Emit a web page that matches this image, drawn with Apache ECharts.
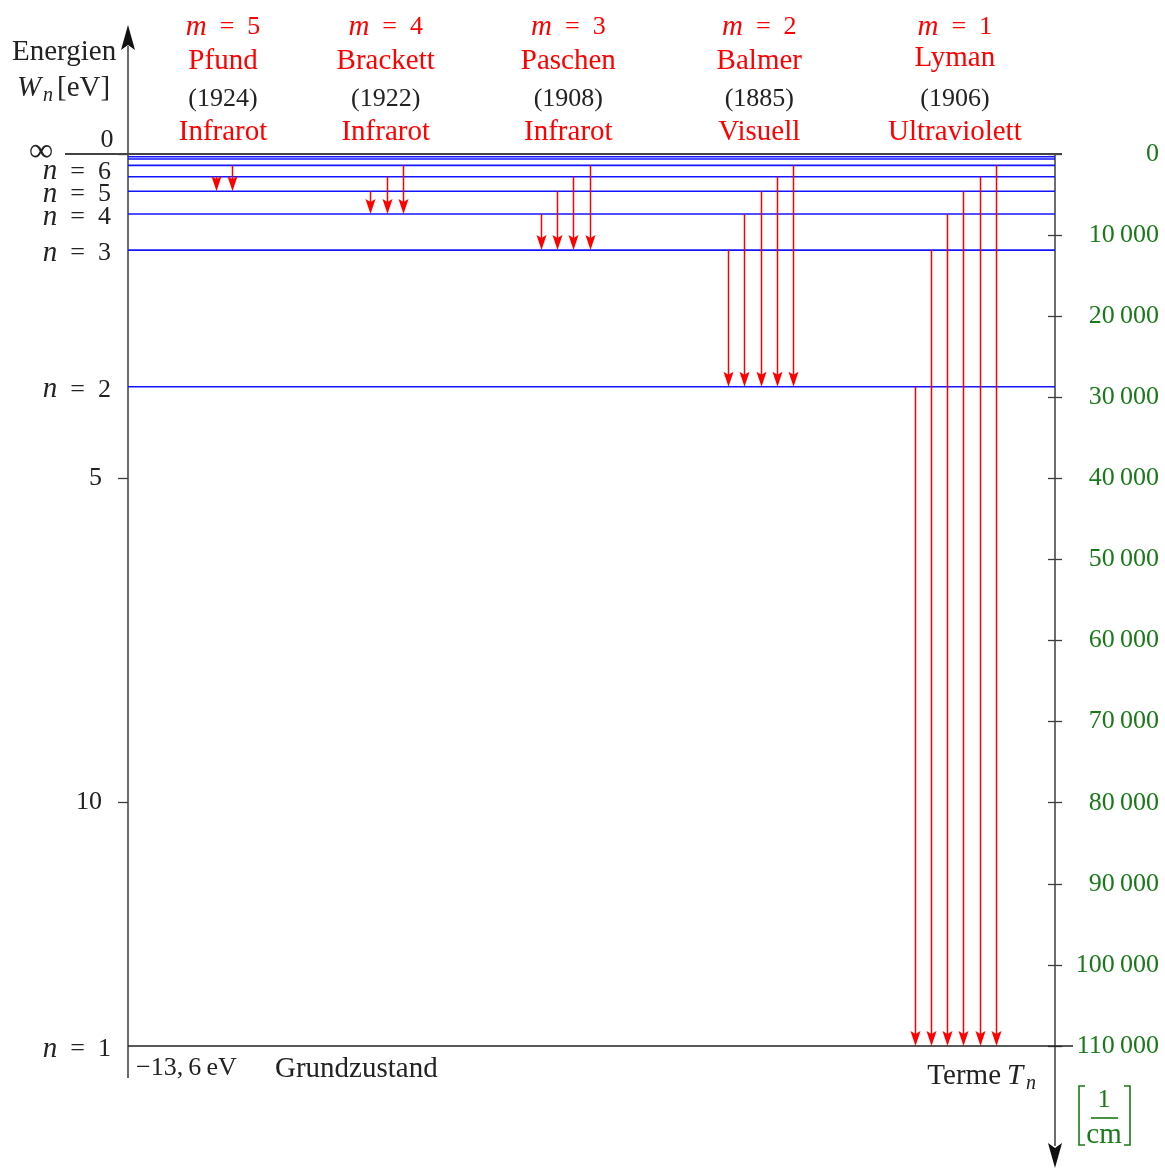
<!DOCTYPE html>
<html><head><meta charset="utf-8">
<script src="https://cdn.jsdelivr.net/npm/echarts@6/dist/echarts.min.js"></script>
<style>html,body{margin:0;padding:0;background:#fff}#c{width:1165px;height:1170px}</style>
</head><body><div id="c"></div>
<script>
// ---- data ----
// energy levels: principal quantum number n and term value T_n [1/cm]
const levelN    = [1, 2, 3, 4, 5, 6, 7, 8, 9];
const levelTerm = [110000, 28700, 11850, 7400, 4600, 2800, 1400, 620, 330];
const labeledLevels = [1, 2, 3, 4, 5, 6];
const ionizationTerm = 0;

// spectral series
const seriesM      = [5, 4, 3, 2, 1];
const seriesName   = ['Pfund', 'Brackett', 'Paschen', 'Balmer', 'Lyman'];
const seriesYear   = ['(1924)', '(1922)', '(1908)', '(1885)', '(1906)'];
const seriesRegion = ['Infrarot', 'Infrarot', 'Infrarot', 'Visuell', 'Ultraviolett'];
const seriesLabelX = [10.25, 27.8, 47.5, 68.1, 89.2];

// transitions: horizontal position (0–100) and upper level n, per series
const arrowX = [
  [9.49, 11.22],
  [26.1, 27.94, 29.67],
  [44.55, 46.28, 48.0, 49.84],
  [64.72, 66.45, 68.28, 70.0, 71.74],
  [84.9, 86.62, 88.35, 90.08, 91.91, 93.64]
];
const arrowFromN = [
  [6, 7],
  [5, 6, 7],
  [4, 5, 6, 7],
  [3, 4, 5, 6, 7],
  [2, 3, 4, 5, 6, 7]
];

// axes
const evMax = 13.765, evInterval = 5;
const evLabels = [5, 10];
const termMax = 110000, termInterval = 10000;

// ---- chart ----
const FF = "'Liberation Serif','Times New Roman',serif";
const RED = '#ff0000', BLUE = '#1414ff', GREEN = '#1a7a1a', INK = '#222222', AXIS = '#3c3c3c';
const FS = 26;   // digits
const FW = 29;   // words

const termOf = n => levelTerm[levelN.indexOf(n)];
const arrowData = [];
arrowX.forEach((xs, s) => xs.forEach((x, k) => {
  arrowData.push([x, termOf(arrowFromN[s][k]), termOf(seriesM[s])]);
}));

const chart = echarts.init(document.getElementById('c'), null, { renderer: 'canvas' });

function fmtThin(v) {
  return String(v).replace(/\B(?=(\d{3})+(?!\d))/g, '\u2009');
}

const option = {
  backgroundColor: '#fff',
  animation: false,
  grid: { left: 128, right: 110, top: 154, bottom: 124 },
  xAxis: { type: 'value', min: 0, max: 100, show: false },
  yAxis: [
    {
      type: 'value', position: 'left', inverse: true, min: 0, max: evMax, interval: evInterval,
      axisLine: { show: false }, splitLine: { show: false },
      axisTick: { show: true, inside: false, length: 10, lineStyle: { color: AXIS, width: 1.3 } },
      axisLabel: { margin: 26, color: INK, fontFamily: FF, fontSize: FS, showMaxLabel: false,
        formatter: v => (evLabels.includes(v) ? String(v) : '') }
    },
    {
      type: 'value', position: 'right', inverse: true, min: 0, max: termMax, interval: termInterval,
      offset: -7,
      axisLine: { show: false }, splitLine: { show: false },
      axisTick: { show: true, inside: false, length: 14, lineStyle: { color: AXIS, width: 1.3 } },
      axisLabel: { margin: 111, align: 'right', color: GREEN, fontFamily: FF, fontSize: FS,
        showMaxLabel: true, formatter: v => fmtThin(v) }
    }
  ],
  series: [
    { // axis lines with arrows and ionization limit
      type: 'custom', xAxisIndex: 0, yAxisIndex: 1, clip: false, z: 1,
      data: [[0, 0]],
      renderItem: (params, api) => {
        const tl = api.coord([0, ionizationTerm]);
        const br = api.coord([100, termMax]);
        const xl = tl[0], xr = br[0], yt = tl[1], yb = br[1];
        return { type: 'group', children: [
          { type: 'line', shape: { x1: xl, y1: yb + 32, x2: xl, y2: yt - 108 }, style: { stroke: AXIS, lineWidth: 1.5 } },
          { type: 'polygon', shape: { points: [[xl, yt - 129], [xl - 7, yt - 104], [xl, yt - 109], [xl + 7, yt - 104]] }, style: { fill: '#111' } },
          { type: 'line', shape: { x1: xr, y1: yt, x2: xr, y2: yb + 100 }, style: { stroke: AXIS, lineWidth: 1.5 } },
          { type: 'polygon', shape: { points: [[xr, yb + 122], [xr - 7, yb + 97], [xr, yb + 102], [xr + 7, yb + 97]] }, style: { fill: '#111' } },
          { type: 'line', shape: { x1: xl - 63, y1: yt, x2: xr + 7, y2: yt }, style: { stroke: '#444', lineWidth: 2.2 } }
        ] };
      }
    },
    { // energy levels
      type: 'custom', xAxisIndex: 0, yAxisIndex: 1, clip: false, z: 2,
      data: levelTerm.map(t => [0, t]),
      renderItem: (params, api) => {
        const n = levelN[params.dataIndex];
        const a = api.coord([0, api.value(1)]);
        const b = api.coord([100, api.value(1)]);
        const ch = [{ type: 'line', shape: { x1: a[0], y1: a[1], x2: b[0] + (n === 1 ? 18 : 0), y2: a[1] },
          style: { stroke: n === 1 ? INK : BLUE, lineWidth: n === 1 ? 1.4 : 1.6 } }];
        if (labeledLevels.includes(n)) {
          ch.push({ type: 'text', x: a[0] - 17, y: a[1] + 3 + (n === 6 ? -8 : 0),
            style: { text: '{i|n}\u2002=\u2002' + n, align: 'right', verticalAlign: 'middle',
              fill: INK, fontFamily: FF, fontSize: FS,
              rich: { i: { fontStyle: 'italic', fontFamily: FF, fontSize: FW, fill: INK } } } });
        }
        return { type: 'group', children: ch };
      }
    },
    { // transitions
      type: 'custom', xAxisIndex: 0, yAxisIndex: 1, clip: false, z: 3,
      data: arrowData,
      encode: { x: 0, y: [1, 2] },
      renderItem: (params, api) => {
        const p = api.coord([api.value(0), api.value(1)]);
        const q = api.coord([api.value(0), api.value(2)]);
        const x = Math.round(p[0]) + 0.5, y0 = p[1], y1 = q[1];
        return { type: 'group', children: [
          { type: 'line', shape: { x1: x, y1: y0, x2: x, y2: y1 - 10 }, style: { stroke: RED, lineWidth: 1.5 } },
          { type: 'polygon', shape: { points: [[x, y1], [x - 5, y1 - 15], [x, y1 - 12], [x + 5, y1 - 15]] }, style: { fill: RED } }
        ] };
      }
    },
    { // series headers
      type: 'custom', xAxisIndex: 0, yAxisIndex: 1, clip: false, z: 4,
      data: seriesLabelX.map(x => [x, 0]),
      renderItem: (params, api) => {
        const i = params.dataIndex;
        const x = api.coord([api.value(0), 0])[0];
        const base = { align: 'center', verticalAlign: 'middle', fontFamily: FF, fontSize: FW };
        return { type: 'group', children: [
          { type: 'text', x: x, y: 27, style: Object.assign({}, base, { text: '{i|m}\u2002=\u2002' + seriesM[i], fill: RED, fontSize: FS,
              rich: { i: { fontStyle: 'italic', fontFamily: FF, fontSize: FW, fill: RED } } }) },
          { type: 'text', x: x, y: seriesName[i] === 'Lyman' ? 58 : 61, style: Object.assign({}, base, { text: seriesName[i], fill: RED }) },
          { type: 'text', x: x, y: 99, style: Object.assign({}, base, { text: seriesYear[i], fill: INK, fontSize: FS }) },
          { type: 'text', x: x, y: 132, style: Object.assign({}, base, { text: seriesRegion[i], fill: RED }) }
        ] };
      }
    }
  ],
  graphic: [
    { type: 'text', x: 12, y: 52, style: { text: 'Energien', fill: INK, font: FW + 'px ' + FF, verticalAlign: 'middle' } },
    { type: 'text', x: 17, y: 88, style: { text: 'W', fill: INK, font: 'italic ' + FW + 'px ' + FF, verticalAlign: 'middle' } },
    { type: 'text', x: 43, y: 96, style: { text: 'n', fill: INK, font: 'italic 20px ' + FF, verticalAlign: 'middle' } },
    { type: 'text', x: 57, y: 88, style: { text: '[eV]', fill: INK, font: FW + 'px ' + FF, verticalAlign: 'middle' } },
    { type: 'text', x: 107, y: 140, style: { text: '0', fill: INK, font: FS + 'px ' + FF, align: 'center', verticalAlign: 'middle' } },
    { type: 'text', x: 41, y: 152, style: { text: '\u221e', fill: INK, font: '34px ' + FF, align: 'center', verticalAlign: 'middle' } },
    { type: 'text', x: 136, y: 1068, style: { text: '\u221213,\u20096\u2009eV', fill: INK, font: FS + 'px ' + FF, verticalAlign: 'middle' } },
    { type: 'text', x: 275, y: 1069, style: { text: 'Grundzustand', fill: INK, font: FW + 'px ' + FF, verticalAlign: 'middle' } },
    { type: 'text', x: 1001, y: 1076, style: { text: 'Terme', fill: INK, font: FW + 'px ' + FF, align: 'right', verticalAlign: 'middle' } },
    { type: 'text', x: 1007, y: 1076, style: { text: 'T', fill: INK, font: 'italic ' + FW + 'px ' + FF, verticalAlign: 'middle' } },
    { type: 'text', x: 1026, y: 1084, style: { text: 'n', fill: INK, font: 'italic 20px ' + FF, verticalAlign: 'middle' } },
    { type: 'polyline', shape: { points: [[1085, 1086], [1079, 1086], [1079, 1145], [1085, 1145]] }, style: { stroke: GREEN, lineWidth: 1.6, fill: null } },
    { type: 'polyline', shape: { points: [[1124, 1086], [1130, 1086], [1130, 1145], [1124, 1145]] }, style: { stroke: GREEN, lineWidth: 1.6, fill: null } },
    { type: 'text', x: 1104, y: 1100, style: { text: '1', fill: GREEN, font: FS + 'px ' + FF, align: 'center', verticalAlign: 'middle' } },
    { type: 'line', shape: { x1: 1091, y1: 1118, x2: 1118, y2: 1118 }, style: { stroke: GREEN, lineWidth: 1.6 } },
    { type: 'text', x: 1104, y: 1135, style: { text: 'cm', fill: GREEN, font: FW + 'px ' + FF, align: 'center', verticalAlign: 'middle' } }
  ]
};
chart.setOption(option);
</script>
</body></html>
